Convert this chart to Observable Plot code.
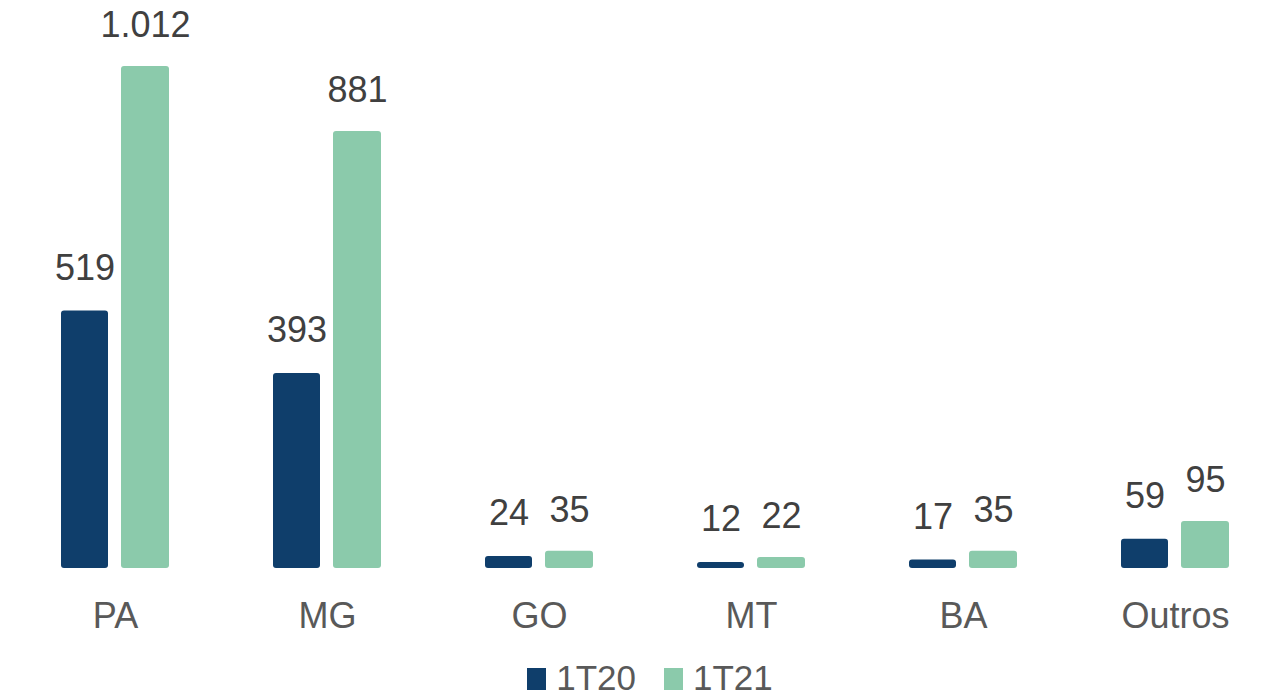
<!DOCTYPE html>
<html>
<head>
<meta charset="utf-8">
<script src="https://cdn.jsdelivr.net/npm/d3@7"></script>
<script src="https://cdn.jsdelivr.net/npm/@observablehq/plot@0.6"></script>
<style>
  html, body { margin: 0; padding: 0; background: #fff; }
  body { width: 1266px; height: 697px; overflow: hidden; font-family: "Liberation Sans", Arial, sans-serif; position: relative; }
  #legend { position: absolute; left: 0; top: 661px; height: 34px; width: 1266px; display: flex; justify-content: center; align-items: baseline; font-size: 35px; line-height: 0.95; color: #595959; padding-left: 34px; box-sizing: border-box; }
  .item { display: flex; align-items: baseline; margin: 0 14px; }
  .sw { width: 19px; height: 22px; display: inline-block; margin-right: 10px; }
</style>
</head>
<body>
<div id="chart"></div>
<div id="legend"></div>
<script>
const categories = ["PA", "MG", "GO", "MT", "BA", "Outros"];
const series = ["1T20", "1T21"];
const values1T20 = [519, 393, 24, 12, 17, 59];
const values1T21 = [1012, 881, 35, 22, 35, 95];
const colors = ["#0f3e6b", "#8bcaab"];

const rows20 = categories.map((c, i) => ({cat: c, value: values1T20[i]}));
const rows21 = categories.map((c, i) => ({cat: c, value: values1T21[i]}));

const fmt = d3.formatLocale({decimal: ",", thousands: ".", grouping: [3], currency: ["R$", ""]}).format(",d");

const labelStyle = {fontSize: 36, fill: "#404040", fontFamily: "Liberation Sans, Arial, sans-serif"};

const chart = Plot.plot({
  width: 1266,
  height: 649,
  marginTop: 0,
  marginBottom: 0,
  marginLeft: 0,
  marginRight: 0,
  style: {fontFamily: "Liberation Sans, Arial, sans-serif", background: "#fff"},
  x: {domain: categories, range: [9, 1281], padding: 0, axis: null},
  y: {domain: [0, 1012], range: [568, 66], axis: null},
  marks: [
    Plot.ruleY([0], {x1: 8, x2: 1266, stroke: "#d9d9d9", strokeWidth: 2}),
    Plot.barY(rows20, {x: "cat", y: "value", fill: colors[0], insetLeft: 52, insetRight: 113, rx: 3}),
    Plot.barY(rows21, {x: "cat", y: "value", fill: colors[1], insetLeft: 112, insetRight: 52, rx: 3}),
    Plot.text(rows20, {x: "cat", y: "value", text: d => fmt(d.value), dx: -30.5, dy: -43, ...labelStyle}),
    Plot.text(rows21, {x: "cat", y: "value", text: d => fmt(d.value), dx: 30, dy: -41, ...labelStyle}),
    Plot.axisX({tickSize: 0, tickPadding: 34, fontSize: 36, color: "#595959", anchor: "bottom", y: 0, label: null})
  ]
});
document.getElementById("chart").appendChild(chart);

const legend = document.getElementById("legend");
series.forEach((s, i) => {
  const item = document.createElement("div");
  item.className = "item";
  item.innerHTML = `<span class="sw" style="background:${colors[i]}"></span><span>${s}</span>`;
  legend.appendChild(item);
});
</script>
</body>
</html>
